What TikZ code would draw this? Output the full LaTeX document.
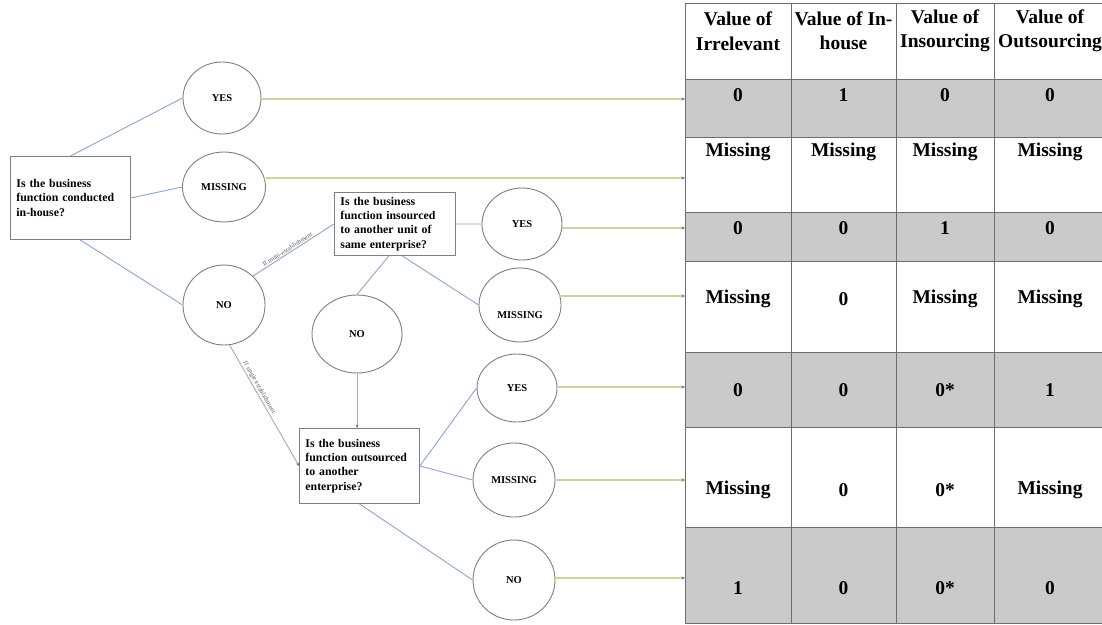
\documentclass[tikz,border=0pt]{standalone}
\usepackage{fontspec}
\setmainfont{Liberation Serif}
\usetikzlibrary{shapes.geometric,arrows.meta,calc}

\definecolor{ringgray}{HTML}{7F7F7F}
\definecolor{linkblue}{HTML}{8CA5CF}
\definecolor{leadgreen}{HTML}{C6D7A2}
\definecolor{cellgray}{HTML}{CACACA}
\definecolor{gridgray}{HTML}{6E6E6E}
\definecolor{pathgray}{HTML}{ABABAB}
\definecolor{tipgray}{HTML}{707070}

\begin{document}
\begin{tikzpicture}[x=1pt,y=-1pt,
  answer/.style={ellipse, draw=ringgray, line width=0.9pt, inner sep=0pt,
    font=\fontsize{10.5}{12}\selectfont\bfseries},
  answertext/.style={inner sep=0pt, font=\fontsize{10.5}{12}\selectfont\bfseries},
  question/.style={rectangle, draw=ringgray, line width=0.9pt, anchor=north west,
    align=left, inner xsep=6pt, inner ysep=2pt,
    font=\fontsize{11.8}{14.3}\selectfont\bfseries},
  link/.style={draw=linkblue, line width=0.9pt},
  route/.style={draw=pathgray, line width=0.9pt, -{Stealth[length=3.5pt,width=3pt,color=tipgray]}},
  lead/.style={draw=leadgreen, line width=1.2pt, -{Stealth[length=3.5pt,width=3pt,color=tipgray]}},
  routelabel/.style={font=\fontsize{6.5}{7}\selectfont, text=black!65, inner sep=1pt, sloped, above},
  headcell/.style={align=center, inner sep=0pt, font=\fontsize{19.5}{24.5}\selectfont\bfseries},
  valcell/.style={inner sep=0pt, font=\fontsize{19.5}{24}\selectfont\bfseries},
  grid/.style={draw=gridgray, line width=0.9pt}
]
\useasboundingbox (0,0) rectangle (1102,624);

% ---------- outcome table ----------
\foreach \ya/\yb in {79/137, 212/261, 352/427, 527/623}
  \fill[cellgray] (685,\ya) rectangle (1110,\yb);
\foreach \x in {685, 791, 896, 994}
  \draw[grid] (\x,3) -- (\x,623.5);
\foreach \y in {3, 79, 137, 212, 261, 352, 427, 527, 623.5}
  \draw[grid] (685,\y) -- (1110,\y);

\node[headcell] (h1) at (738,31)  {Value of\\Irrelevant};
\node[headcell] (h2) at (843.5,31) {Value of In-\\house};
\node[headcell] (h3) at (945,31)  {Value of\\Insourcing};
\node[headcell] (h4) at (1050,31) {Value of\\Outsourcing};

\foreach \y/\a/\b/\c/\d [count=\r] in {
    95/0/1/0/0,
    152/Missing/Missing/Missing/Missing,
    228/0/0/1/0,
    299/Missing/0/Missing/Missing,
    390/0/0/0*/1,
    490/Missing/0/0*/Missing,
    588/1/0/0*/0} {
  \node[valcell] (v\r a) at (738,\y)   {\a};
  \node[valcell] (v\r b) at (843.5,\y) {\b};
  \node[valcell] (v\r c) at (945,\y)   {\c};
  \node[valcell] (v\r d) at (1050,\y)  {\d};
}

% arrow targets on the table's left edge
\coordinate (t1) at (685,99);
\coordinate (t2) at (685,178);
\coordinate (t3) at (685,228);
\coordinate (t4) at (685,296);
\coordinate (t5) at (685,387);
\coordinate (t6) at (685,480);
\coordinate (t7) at (685,578);

% ---------- questions ----------
\node[question, text width=108pt, minimum height=83pt] (q1) at (10,156)
  {Is the business\\function conducted\\in-house?};
\node[question, text width=109pt, minimum height=63pt] (q2) at (334,192)
  {Is the business\\function insourced\\to another unit of\\same enterprise?};
\node[question, text width=108pt, minimum height=75pt] (q3) at (299,428)
  {Is the business\\function outsourced\\to another\\enterprise?};

% ---------- answers ----------
\node[answer, minimum width=78pt, minimum height=72pt] (yes1) at (222,98)  {YES};
\node[answer, minimum width=83pt, minimum height=70pt] (mis1) at (224,187) {MISSING};
\node[answer, minimum width=82pt, minimum height=80pt] (no1)  at (224,305) {NO};
\node[answer, minimum width=80pt, minimum height=72pt] (yes2) at (522,224) {YES};
\node[answer, minimum width=82pt, minimum height=74pt] (mis2) at (520,305) {};
\node[answertext] (mis2t) at (520,315) {MISSING};
\node[answer, minimum width=90pt, minimum height=78pt] (no2)  at (357,334) {NO};
\node[answer, minimum width=80pt, minimum height=68pt] (yes3) at (517,388) {YES};
\node[answer, minimum width=82pt, minimum height=74pt] (mis3) at (514,480) {MISSING};
\node[answer, minimum width=82pt, minimum height=80pt] (no3)  at (514,580) {NO};

% ---------- branches ----------
\draw[link] (q1.north) -- (yes1.west);
\draw[link] (q1.east) -- (mis1.west);
\draw[link] ($(q1.south west)!0.58!(q1.south east)$) -- (no1.west);

\draw[link] (no1.45) -- node[routelabel, pos=0.45] {If multi-establishment} (q2.west);
\draw[route] (no1.-82) -- node[routelabel, pos=0.37] {If single establishment} (q3.west);

\draw[link] (q2.east) -- (yes2.west);
\draw[link] ($(q2.south west)!0.56!(q2.south east)$) -- (mis2.west);
\draw[link] ($(q2.south west)!0.45!(q2.south east)$) -- (no2.north);
\draw[route] (no2.south) -- (no2.south |- q3.north);

\draw[link] (q3.east) -- (yes3.west);
\draw[link] (q3.east) -- (mis3.west);
\draw[link] (q3.south) -- (no3.west);

% ---------- results ----------
\draw[lead] (yes1.east |- t1) -- (t1);
\draw[lead, shorten <=-2pt] (mis1.east |- t2) -- (t2);
\draw[lead] (yes2.east |- t3) -- (t3);
\draw[lead, shorten <=-2pt] (mis2.east |- t4) -- (t4);
\draw[lead] (yes3.east |- t5) -- (t5);
\draw[lead] (mis3.east |- t6) -- (t6);
\draw[lead] (no3.east |- t7) -- (t7);
\end{tikzpicture}
\end{document}
